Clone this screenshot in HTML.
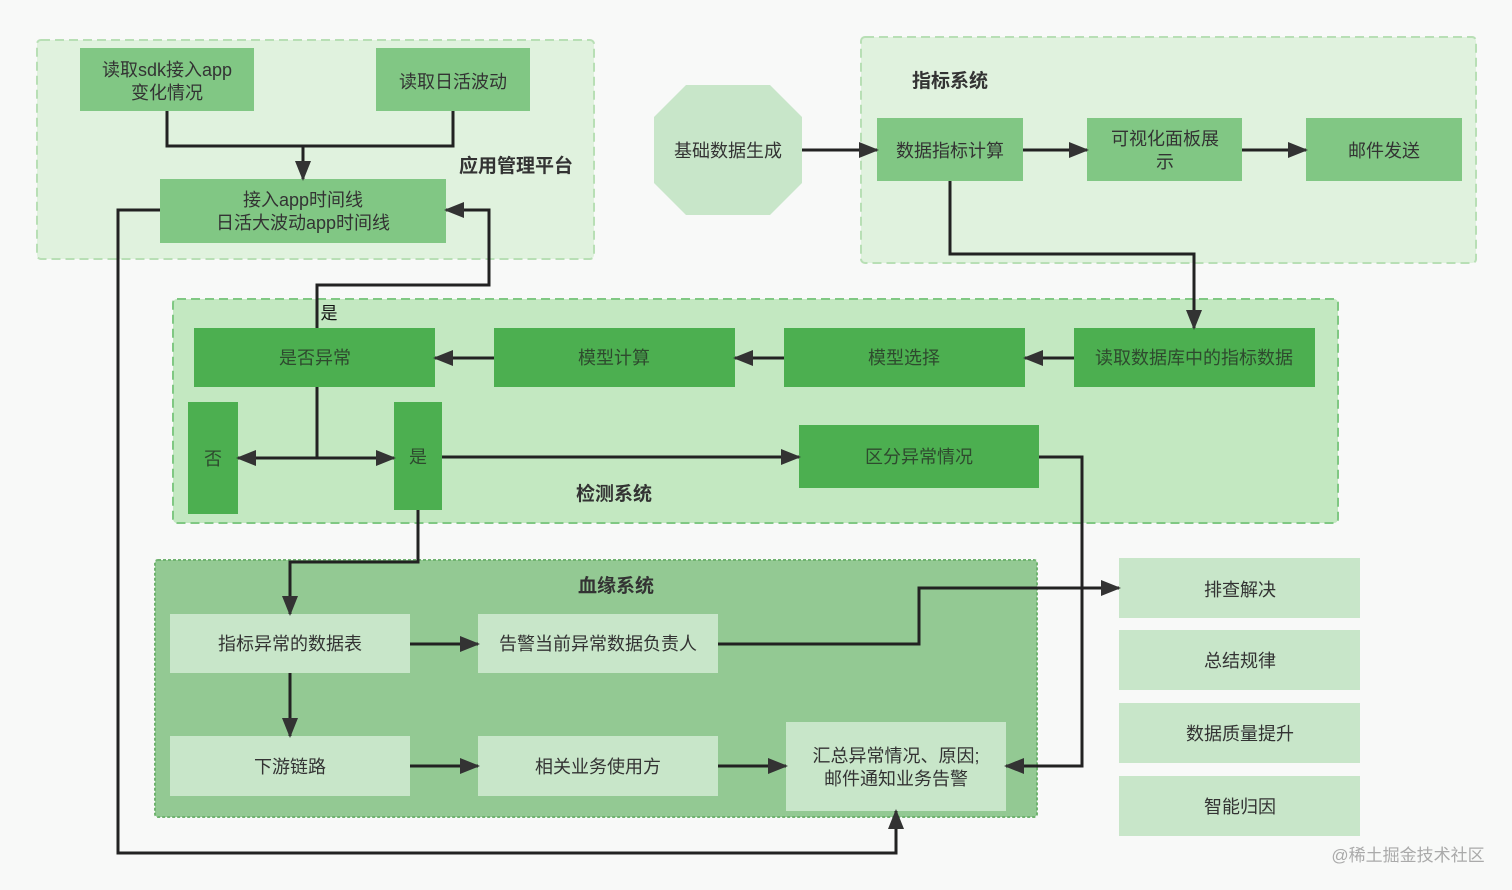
<!DOCTYPE html>
<html><head><meta charset="utf-8"><style>
html,body{margin:0;padding:0;background:#f8f9f8;}
svg{display:block;font-family:"Liberation Sans","Noto Sans CJK SC",sans-serif;}
</style></head><body>
<svg width="1512" height="890" viewBox="0 0 1512 890" xmlns="http://www.w3.org/2000/svg">
<defs>
<marker id="a" markerWidth="10" markerHeight="10" refX="9" refY="5" orient="auto" markerUnits="userSpaceOnUse" viewBox="0 0 10 10">
<path d="M0,0 L10,5 L0,10 z" fill="#333"/></marker>
<marker id="b" markerWidth="20" markerHeight="16" refX="18" refY="8" orient="auto" markerUnits="userSpaceOnUse" viewBox="0 0 20 16">
<path d="M0,0 L20,8 L0,16 z" fill="#333"/></marker>
</defs>
<rect width="1512" height="890" fill="#f8f9f8"/>
<!-- panels -->
<rect x="37" y="40" width="557" height="219" rx="4" fill="#e0f2de" stroke="#b8dfb5" stroke-width="2" stroke-dasharray="9,5"/>
<rect x="861" y="37" width="615" height="226" rx="4" fill="#e0f2de" stroke="#b8dfb5" stroke-width="2" stroke-dasharray="9,5"/>
<rect x="173" y="299" width="1165" height="224" rx="4" fill="#c3e8c1" stroke="#80c883" stroke-width="2" stroke-dasharray="9,5"/>
<rect x="155" y="560" width="882" height="257" rx="3" fill="#93c993" stroke="#6fb36f" stroke-width="2" stroke-dasharray="3,2"/>
<g font-size="19" font-weight="bold" fill="#333" text-anchor="middle">
<text x="516" y="172">应用管理平台</text>
<text x="950" y="87">指标系统</text>
<text x="614" y="500">检测系统</text>
<text x="616" y="592">血缘系统</text>
</g>
<!-- boxes -->
<g fill="#81c784">
<rect x="80" y="48" width="174" height="63"/>
<rect x="376" y="48" width="154" height="63"/>
<rect x="160" y="179" width="286" height="64"/>
<rect x="877" y="118" width="146" height="63"/>
<rect x="1087" y="118" width="155" height="63"/>
<rect x="1306" y="118" width="156" height="63"/>
</g>
<polygon points="686,85 770,85 802,117 802,183 770,215 686,215 654,183 654,117" fill="#c8e6c9"/>
<g fill="#4caf50">
<rect x="194" y="328" width="241" height="59"/>
<rect x="494" y="328" width="241" height="59"/>
<rect x="784" y="328" width="241" height="59"/>
<rect x="1074" y="328" width="241" height="59"/>
<rect x="188" y="402" width="50" height="112"/>
<rect x="394" y="402" width="48" height="108"/>
<rect x="799" y="425" width="240" height="63"/>
</g>
<g fill="#c8e6c9">
<rect x="170" y="614" width="240" height="59"/>
<rect x="478" y="614" width="240" height="59"/>
<rect x="170" y="736" width="240" height="60"/>
<rect x="478" y="736" width="240" height="60"/>
<rect x="786" y="722" width="220" height="89"/>
<rect x="1119" y="558" width="241" height="60"/>
<rect x="1119" y="630" width="241" height="60"/>
<rect x="1119" y="703" width="241" height="60"/>
<rect x="1119" y="776" width="241" height="60"/>
</g>
<!-- text -->
<g font-size="18" fill="#333" text-anchor="middle">
<text x="167" y="76">读取sdk接入app</text>
<text x="167" y="99">变化情况</text>
<text x="453" y="88">读取日活波动</text>
<text x="303" y="206">接入app时间线</text>
<text x="303" y="229">日活大波动app时间线</text>
<text x="728" y="157">基础数据生成</text>
<text x="950" y="157">数据指标计算</text>
<text x="1165" y="145">可视化面板展</text>
<text x="1165" y="168">示</text>
<text x="1384" y="157">邮件发送</text>
</g>
<g font-size="18" fill="#2e4a2e" text-anchor="middle">
<text x="315" y="364">是否异常</text>
<text x="614" y="364">模型计算</text>
<text x="904" y="364">模型选择</text>
<text x="1194" y="364">读取数据库中的指标数据</text>
<text x="213" y="465">否</text>
<text x="418" y="463">是</text>
<text x="919" y="463">区分异常情况</text>
</g>
<g font-size="18" fill="#333" text-anchor="middle">
<text x="290" y="650">指标异常的数据表</text>
<text x="598" y="650">告警当前异常数据负责人</text>
<text x="290" y="773">下游链路</text>
<text x="598" y="773">相关业务使用方</text>
<text x="896" y="762">汇总异常情况、原因;</text>
<text x="896" y="785">邮件通知业务告警</text>
<text x="1240" y="596">排查解决</text>
<text x="1240" y="667">总结规律</text>
<text x="1240" y="740">数据质量提升</text>
<text x="1240" y="813">智能归因</text>
</g>
<text x="329" y="319" font-size="17" fill="#111" text-anchor="middle">是</text>
<text x="1408" y="861" font-size="17" fill="#aaa" text-anchor="middle">@稀土掘金技术社区</text>
<!-- connectors -->
<g fill="none" stroke="#222" stroke-width="3">
<path d="M167,111 V146 H453 V111"/>
<path d="M303,146 V179" marker-end="url(#b)"/>
<path d="M160,210 H118 V853 H896 V811" marker-end="url(#b)"/>
<path d="M317,328 V285 H489 V210 H446" marker-end="url(#b)"/>
<path d="M802,150 H877" marker-end="url(#b)"/>
<path d="M1023,150 H1087" marker-end="url(#b)"/>
<path d="M1242,150 H1306" marker-end="url(#b)"/>
<path d="M950,181 V254 H1194 V328" marker-end="url(#b)"/>
<path d="M1074,358 H1025" marker-end="url(#b)"/>
<path d="M784,358 H735" marker-end="url(#b)"/>
<path d="M494,358 H435" marker-end="url(#b)"/>
<path d="M317,387 V458"/>
<path d="M317,458 H238" marker-end="url(#b)"/>
<path d="M317,458 H394" marker-end="url(#b)"/>
<path d="M442,457 H799" marker-end="url(#b)"/>
<path d="M1039,457 H1082 V766 H1006" marker-end="url(#b)"/>
<path d="M418,510 V562 H290 V614" marker-end="url(#b)"/>
<path d="M410,644 H478" marker-end="url(#b)"/>
<path d="M718,644 H919 V588 H1119" marker-end="url(#b)"/>
<path d="M290,673 V736" marker-end="url(#b)"/>
<path d="M410,766 H478" marker-end="url(#b)"/>
<path d="M718,766 H786" marker-end="url(#b)"/>
</g>
</svg>
</body></html>
